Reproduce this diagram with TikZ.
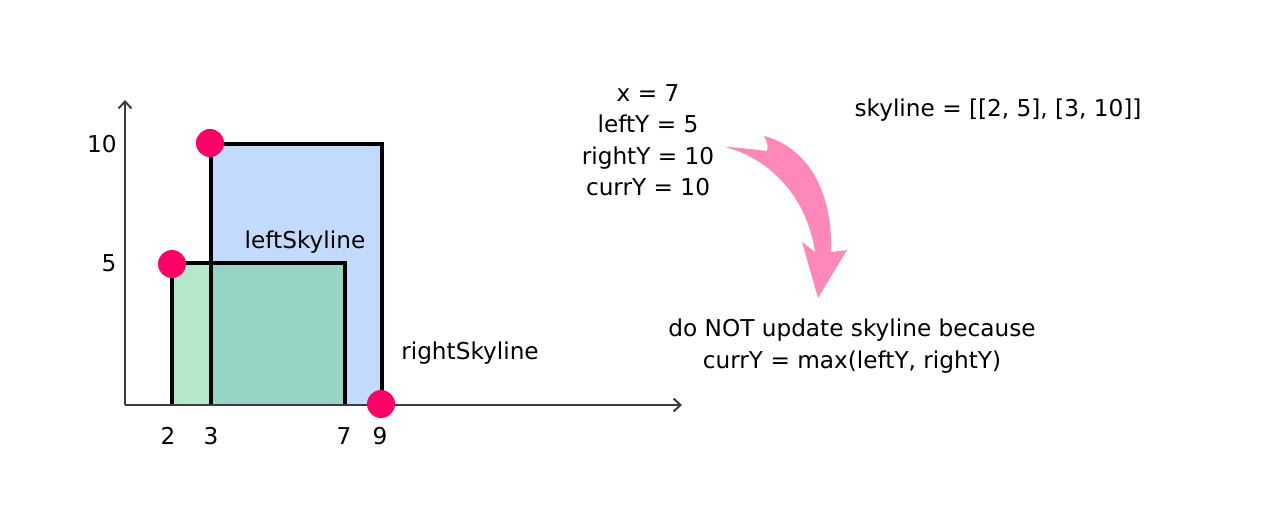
\documentclass[tikz,border=0pt]{standalone}
\usepackage{fontspec}
\setmainfont{DejaVu Sans}
\usetikzlibrary{arrows.meta}
\definecolor{bluefill}{RGB}{194,218,252}
\definecolor{greenfill}{RGB}{179,232,202}
\definecolor{tealfill}{RGB}{150,212,198}
\definecolor{dotred}{RGB}{255,0,102}
\definecolor{pinkarrow}{RGB}{255,136,187}
\definecolor{axisgray}{RGB}{60,60,60}
\tikzset{
  axis/.style={draw=axisgray, line width=2pt, -{Straight Barb[length=7pt,width=13pt,line width=2pt]}},
  edge/.style={draw=black, line width=3.6pt},
  dot/.style={circle, fill=dotred, minimum size=28pt, inner sep=0pt},
  lbl/.style={font=\fontsize{23.2}{31.5}\selectfont, text=black, inner sep=0pt, align=center},
}
\begin{document}
\begin{tikzpicture}[x=1pt,y=-1pt]
\useasboundingbox (0,0) rectangle (1280,521);
% fills
\fill[bluefill] (211,144) rectangle (382,405);
\fill[greenfill] (172,263) rectangle (211,405);
\fill[tealfill] (211,263) rectangle (345,405);
% edges
\draw[edge] (172,405) -- (172,263) -- (345,263) -- (345,405);
\draw[edge] (211,405) -- (211,144) -- (382,144) -- (382,405);
% axes
\coordinate (o) at (125,405);
\coordinate (ytop) at (125,100);
\coordinate (xend) at (682,405);
\draw[axis] (o) -- (ytop);
\draw[axis] (o) -- (xend);
% dots
\node[dot] (d1) at (210,143) {};
\node[dot] (d2) at (172,264) {};
\node[dot] (d3) at (381,404) {};
% tick labels
\node[lbl] (y10) at (102,144) {10};
\node[lbl] (y5) at (109,263) {5};
\node[lbl] (x2) at (168,436) {2};
\node[lbl] (x3) at (211,436) {3};
\node[lbl] (x7) at (344,436) {7};
\node[lbl] (x9) at (380,436) {9};
% labels
\node[lbl] (ls) at (305,242) {leftSkyline};
\node[lbl] (rs) at (470,353) {rightSkyline};
\node[lbl] (vars) at (648,140) {x = 7\\leftY = 5\\rightY = 10\\currY = 10};
\node[lbl] (sky) at (998,110) {skyline = [[2, 5], [3, 10]]};
\node[lbl] (msg) at (852,346) {do NOT update skyline because\\currY = max(leftY, rightY)};
% pink arrow
\fill[pinkarrow] (725,147) .. controls (765,157) and (806,192) .. (815,252)
  -- (802,242) -- (818,298) -- (847,250) -- (831,252)
  .. controls (833,195) and (810,148) .. (764,136)
  .. controls (768,143) and (768,147) .. (767,151)
  .. controls (750,149) and (735,147) .. cycle;
\end{tikzpicture}
\end{document}
